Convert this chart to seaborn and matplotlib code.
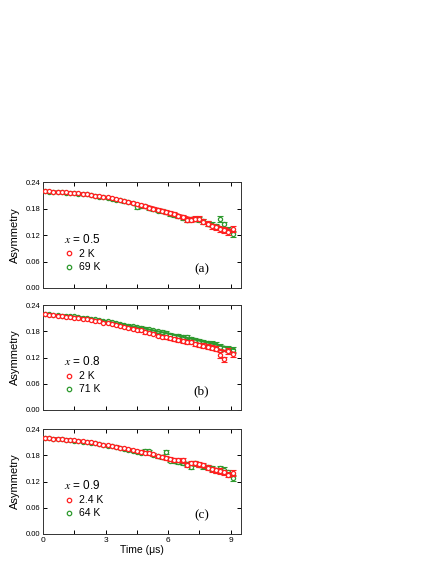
import numpy as np
import pandas as pd
import matplotlib
matplotlib.use("Agg")
import matplotlib.pyplot as plt
from matplotlib.lines import Line2D
from matplotlib.ticker import MultipleLocator
import seaborn as sns

sns.set_theme(style="ticks")
plt.rcParams['font.family'] = ['Liberation Sans', 'DejaVu Sans']
plt.rcParams['mathtext.fontset'] = 'stix'
plt.rcParams['text.color'] = 'black'
plt.rcParams['axes.labelcolor'] = 'black'
plt.rcParams['xtick.color'] = 'black'
plt.rcParams['ytick.color'] = 'black'

# time bins (microseconds)
t = [0.1, 0.3, 0.5, 0.7, 0.9, 1.1, 1.3, 1.5, 1.7, 1.9, 2.1, 2.3, 2.5, 2.7, 2.9,
     3.1, 3.3, 3.5, 3.7, 3.9, 4.1, 4.3, 4.5, 4.7, 4.9, 5.1, 5.3, 5.5, 5.7, 5.9,
     6.1, 6.3, 6.5, 6.7, 6.9, 7.1, 7.3, 7.5, 7.7, 7.9, 8.1, 8.3, 8.5, 8.7, 8.9, 9.1]

err = [0.0012, 0.0012, 0.0013, 0.0013, 0.0014, 0.0014, 0.0015, 0.0015, 0.0016, 0.0017,
       0.0017, 0.0018, 0.0019, 0.0020, 0.0021, 0.0022, 0.0023, 0.0024, 0.0025, 0.0026,
       0.0027, 0.0028, 0.0030, 0.0031, 0.0032, 0.0034, 0.0035, 0.0036, 0.0038, 0.0039,
       0.0040, 0.0042, 0.0043, 0.0045, 0.0046, 0.0048, 0.0050, 0.0051, 0.0053, 0.0055,
       0.0056, 0.0058, 0.0060, 0.0062, 0.0064, 0.0066]

# x = 0.5
a_low = [0.219, 0.219, 0.218, 0.218, 0.217, 0.217, 0.216, 0.215, 0.214, 0.213, 0.212, 0.211,
         0.209, 0.208, 0.206, 0.205, 0.203, 0.201, 0.199, 0.197, 0.195, 0.193, 0.190, 0.187,
         0.185, 0.182, 0.180, 0.177, 0.175, 0.172, 0.170, 0.167, 0.162, 0.160, 0.153, 0.155,
         0.157, 0.157, 0.150, 0.146, 0.140, 0.137, 0.133, 0.131, 0.127, 0.134]
a_high = [0.219, 0.218, 0.218, 0.217, 0.217, 0.216, 0.216, 0.215, 0.213, 0.212, 0.212, 0.210,
          0.209, 0.207, 0.206, 0.204, 0.202, 0.200, 0.199, 0.196, 0.195, 0.192, 0.183, 0.186,
          0.185, 0.181, 0.178, 0.175, 0.174, 0.171, 0.168, 0.166, 0.162, 0.158, 0.155, 0.156,
          0.156, 0.155, 0.151, 0.146, 0.143, 0.140, 0.156, 0.144, 0.131, 0.122]
# x = 0.8
b_low = [0.219, 0.218, 0.217, 0.216, 0.215, 0.213, 0.212, 0.211, 0.210, 0.208, 0.207, 0.206,
         0.204, 0.203, 0.200, 0.199, 0.197, 0.195, 0.192, 0.190, 0.188, 0.186, 0.183, 0.182,
         0.178, 0.176, 0.174, 0.170, 0.168, 0.166, 0.164, 0.162, 0.160, 0.157, 0.155, 0.155,
         0.151, 0.149, 0.147, 0.145, 0.142, 0.140, 0.126, 0.116, 0.135, 0.127]
b_high = [0.219, 0.219, 0.218, 0.217, 0.216, 0.215, 0.214, 0.214, 0.212, 0.211, 0.210, 0.209,
          0.207, 0.206, 0.204, 0.203, 0.201, 0.198, 0.197, 0.195, 0.193, 0.191, 0.190, 0.188,
          0.186, 0.185, 0.182, 0.180, 0.178, 0.176, 0.172, 0.170, 0.169, 0.167, 0.166, 0.163,
          0.160, 0.158, 0.155, 0.153, 0.151, 0.149, 0.145, 0.141, 0.139, 0.137]
# x = 0.9
c_low = [0.220, 0.219, 0.218, 0.218, 0.217, 0.216, 0.215, 0.214, 0.213, 0.212, 0.211, 0.210,
         0.209, 0.206, 0.204, 0.203, 0.202, 0.200, 0.197, 0.196, 0.194, 0.192, 0.190, 0.188,
         0.186, 0.185, 0.182, 0.178, 0.177, 0.174, 0.171, 0.169, 0.170, 0.169, 0.158, 0.163,
         0.162, 0.159, 0.158, 0.152, 0.148, 0.146, 0.144, 0.141, 0.136, 0.140]
c_high = [0.220, 0.219, 0.218, 0.217, 0.217, 0.216, 0.215, 0.213, 0.213, 0.211, 0.210, 0.208,
          0.207, 0.206, 0.204, 0.202, 0.201, 0.199, 0.197, 0.195, 0.193, 0.190, 0.188, 0.186,
          0.190, 0.189, 0.181, 0.178, 0.176, 0.187, 0.168, 0.166, 0.165, 0.163, 0.160, 0.154,
          0.163, 0.158, 0.155, 0.153, 0.150, 0.146, 0.150, 0.147, 0.141, 0.128]

# fit curves
t_fit = [0, 1, 2, 3, 4, 5, 6, 7, 8, 9, 9.2]
a_low_fit = [0.219, 0.217, 0.213, 0.206, 0.197, 0.186, 0.173, 0.159, 0.145, 0.131, 0.128]
a_high_fit = [0.219, 0.217, 0.213, 0.206, 0.197, 0.185, 0.172, 0.158, 0.145, 0.132, 0.129]
b_low_fit = [0.219, 0.215, 0.208, 0.199, 0.189, 0.177, 0.165, 0.154, 0.143, 0.132, 0.130]
b_high_fit = [0.219, 0.216, 0.211, 0.203, 0.194, 0.185, 0.175, 0.164, 0.153, 0.141, 0.139]
c_low_fit = [0.220, 0.217, 0.212, 0.203, 0.194, 0.183, 0.171, 0.160, 0.149, 0.137, 0.135]
c_high_fit = [0.220, 0.217, 0.211, 0.203, 0.193, 0.182, 0.170, 0.159, 0.148, 0.137, 0.135]

panels = [
    ("0.5", "2 K", "69 K", a_low, a_high, a_low_fit, a_high_fit, "(a)"),
    ("0.8", "2 K", "71 K", b_low, b_high, b_low_fit, b_high_fit, "(b)"),
    ("0.9", "2.4 K", "64 K", c_low, c_high, c_low_fit, c_high_fit, "(c)"),
]

RED = "#ff2020"
GREEN = "#2e9a2e"

fig = plt.figure(figsize=(4.36, 5.64), dpi=100)
left, width = 43 / 436, 198 / 436
boxes = [(288, 106), (410, 105), (534, 105)]

for i, (xval, lab_lo, lab_hi, lo, hi, lo_fit, hi_fit, tag) in enumerate(panels):
    bottom_px, h_px = boxes[i]
    ax = fig.add_axes([left, (564 - bottom_px) / 564, width, h_px / 564])

    ax.errorbar(t, hi, yerr=err, fmt='none', ecolor=GREEN, elinewidth=0.8,
                capsize=2, capthick=0.8, zorder=2)
    sns.scatterplot(x=t, y=hi, ax=ax, marker='o', s=9, facecolor='white',
                    edgecolor=GREEN, linewidth=0.9, zorder=3)
    sns.lineplot(x=t_fit, y=hi_fit, ax=ax, color=GREEN, linewidth=1.5, zorder=4)
    ax.errorbar(t, lo, yerr=err, fmt='none', ecolor=RED, elinewidth=0.8,
                capsize=2, capthick=0.8, zorder=5)
    sns.lineplot(x=t_fit, y=lo_fit, ax=ax, color=RED, linewidth=1.7, zorder=6)
    sns.scatterplot(x=t, y=lo, ax=ax, marker='o', s=9, facecolor='white',
                    edgecolor=RED, linewidth=0.9, zorder=7)

    ax.set_xlim(0, 9.5)
    ax.set_ylim(0, 0.24)
    ax.xaxis.set_major_locator(MultipleLocator(3))
    ax.xaxis.set_minor_locator(MultipleLocator(1.5))
    ax.yaxis.set_major_locator(MultipleLocator(0.06))
    ax.yaxis.set_major_formatter(matplotlib.ticker.FuncFormatter(lambda v, p: "%.2f" % v))
    ax.tick_params(which='both', direction='in', top=True, right=True,
                   length=3, width=0.7, labelsize=5.5, pad=2)
    for sp in ax.spines.values():
        sp.set_linewidth(0.7)
        sp.set_color('#333333')
    ax.set_ylabel("Asymmetry", fontsize=8, labelpad=4)

    if i < 2:
        ax.tick_params(labelbottom=False)
    else:
        ax.set_xlabel("Time (\u03bcs)", fontsize=7.5, labelpad=1)
        ax.tick_params(axis='x', labelsize=6)

    ax.text(0.105, 0.46, r"$x$ = " + xval, transform=ax.transAxes,
            fontsize=8.5, va='center', ha='left')
    handles = [Line2D([], [], ls='none', marker='o', markersize=3.2, mfc='white',
                      mec=RED, mew=0.9),
               Line2D([], [], ls='none', marker='o', markersize=3.2, mfc='white',
                      mec=GREEN, mew=0.9)]
    ax.legend(handles, [lab_lo, lab_hi], loc='lower left', bbox_to_anchor=(0.07, 0.08),
              frameon=False, fontsize=7.5, handlelength=1.0, handletextpad=0.4,
              labelspacing=0.3, borderpad=0.2)
    ax.text(0.80, 0.18, tag, transform=ax.transAxes, fontsize=9.5,
            family=['Liberation Serif', 'DejaVu Serif'], ha='center', va='center')

fig.savefig("out.png", dpi=100)
